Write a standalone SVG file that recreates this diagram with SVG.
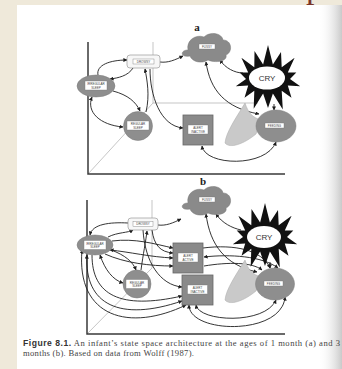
<svg xmlns="http://www.w3.org/2000/svg" width="342" height="369" viewBox="0 0 342 369">
<defs>
<style>
.ax{fill:none;stroke:#3a3a3a;stroke-width:1.5}
.thin{fill:none;stroke:#a0a0a0;stroke-width:0.6}
.nf{fill:#8e8e8e;stroke:#7a7a7a;stroke-width:0.5}
.sq{fill:#8a8a8a;stroke:#666;stroke-width:0.8}
.lbl{fill:#fff;stroke:#777;stroke-width:0.4}
.lt{font-family:"Liberation Sans",Arial,sans-serif;font-size:3px;fill:#444;text-anchor:middle}
.c{fill:none;stroke:#1e1e1e;stroke-width:0.9}
.ab{marker-end:url(#ar)}
.bb{marker-start:url(#ar);marker-end:url(#ar)}
.hd{font-family:"Liberation Serif","Times New Roman",serif;font-weight:bold;font-size:11px;fill:#222;text-anchor:middle}
.cry{font-family:"Liberation Sans",Arial,sans-serif;font-size:8px;fill:#333;text-anchor:middle}
</style>
<marker id="ar" viewBox="0 0 4 4" refX="3.6" refY="2" markerWidth="4" markerHeight="4" markerUnits="userSpaceOnUse" orient="auto-start-reverse">
<path d="M0,0 L4,2 L0,4 Z" fill="#1e1e1e"/>
</marker>
<linearGradient id="edge" x1="0" y1="0" x2="1" y2="0">
<stop offset="0" stop-color="#ffffff" stop-opacity="0"/>
<stop offset="1" stop-color="#c9c9c9" stop-opacity="1"/>
</linearGradient>
<polygon id="star" points="0,-34 4.9,-14.6 13,-27 13.7,-11.7 26.6,-21.2 19.8,-6.5 28.3,-6.5 22,0 32.2,7.3 19.8,6.5 23.5,18.7 13.7,11.7 14.8,30.6 4.9,14.6 0,29 -4.9,14.6 -14.3,29.7 -13.7,11.7 -23.5,18.7 -19.8,6.5 -32.2,7.3 -22,0 -28.3,-6.5 -19.8,-6.5 -26.6,-21.2 -13.7,-11.7 -13.5,-27.9 -4.9,-14.6" fill="#111"/>
<path id="cloud" d="M190,56 C180,58 180,50 188,50 C186,40 196,34 204,37 C210,31 222,33 223,40 C232,40 233,52 226,55 C228,62 214,63 208,60 C202,64 192,62 190,56 Z" fill="#8a8a8a" stroke="#777" stroke-width="0.5"/>
<path id="wedge" d="M245,103 C236,118 226,132 225,143 C230,149 244,144 256,134 L262,120 C252,118 248,112 245,103 Z" fill="#c9c9c9" stroke="#aaa" stroke-width="0.5"/>
</defs>

<!-- page -->
<rect x="0" y="0" width="342" height="369" fill="#efe9da"/>
<rect x="17" y="5" width="325" height="364" fill="#ffffff"/>
<rect x="318" y="5" width="24" height="364" fill="url(#edge)"/>
<text x="306" y="-2.5" font-family="Liberation Serif,'Times New Roman',serif" font-size="34" fill="#7a3526">p</text>

<!-- ================= PANEL A ================= -->
<g id="frame-a">
<path class="thin" d="M153,42 V103 H258 M88,174 L153,103"/>
<path class="ax" d="M88,42 V174 H285"/>
</g>

<g id="connectors-a">
<path class="c ab" d="M160,62 C168,63 175,60 183,56"/>
<path class="c ab" d="M98,75 C96,65 110,60 127,60"/>
<path class="c ab" d="M133,68 C128,76 118,78 110,79"/>
<path class="c bb" d="M92,97 C86,112 100,125 123,127"/>
<path class="c ab" d="M113,91 C128,95 136,102 140,111"/>
<path class="c ab" d="M146,112 C150,95 147,80 145,69"/>
<path class="c ab" d="M150,69 C150,95 160,126 183,128"/>
<path class="c bb" d="M206,62 C210,90 225,108 259,114"/>
<path class="c ab" d="M243,73 C235,73 225,68 220,60"/>
<path class="c ab" d="M274,104 L274,110"/>
<path class="c bb" d="M202,146 C205,166 266,168 276,142"/>
</g>

<g id="fussy-a">
<use href="#cloud"/>
<rect class="lbl" x="199" y="44" width="16" height="5"/>
<text class="lt" x="207" y="47.6">FUSSY</text>
</g>
<g id="drowsy-a">
<rect x="127" y="55" width="33" height="13" rx="3" fill="#f7f7f7" stroke="#999" stroke-width="0.7"/>
<rect class="lbl" x="133" y="59" width="21" height="5"/>
<text class="lt" x="143.5" y="62.6">DROWSY</text>
</g>
<g id="cry-a">
<use href="#star" transform="translate(268,79)"/>
<ellipse cx="267" cy="78" rx="18" ry="11.5" fill="#fff"/>
<text class="cry" x="267" y="81">CRY</text>
</g>
<g id="irregular-sleep-a">
<ellipse class="nf" cx="96" cy="86" rx="19" ry="11"/>
<rect class="lbl" x="85" y="81" width="22" height="9"/>
<text class="lt" x="96" y="85">IRREGULAR</text>
<text class="lt" x="96" y="88.7">SLEEP</text>
</g>
<g id="regular-sleep-a">
<circle class="nf" cx="138" cy="126" r="14.5"/>
<rect class="lbl" x="127" y="121" width="22" height="9"/>
<text class="lt" x="138" y="125">REGULAR</text>
<text class="lt" x="138" y="128.7">SLEEP</text>
</g>
<g id="alert-inactive-a">
<rect class="sq" x="183" y="115" width="30" height="30"/>
<rect class="lbl" x="188" y="125" width="20" height="9"/>
<text class="lt" x="198" y="129">ALERT</text>
<text class="lt" x="198" y="132.7">INACTIVE</text>
</g>
<g id="wedge-a">
<use href="#wedge"/>
</g>
<g id="feeding-a">
<ellipse class="nf" cx="276" cy="126" rx="20" ry="16"/>
<rect class="lbl" x="265" y="123" width="19" height="5"/>
<text class="lt" x="274.5" y="126.6">FEEDING</text>
</g>

<!-- ================= PANEL B ================= -->
<g id="frame-b">
<path class="thin" d="M152,200 V268 M87,334 L152,268"/>
<path class="ax" d="M87,200 V334 H285"/>
</g>

<g id="connectors-b">
<path class="c ab" d="M158,225 C166,226 173,223 181,219"/>
<path class="c ab" d="M128,223 C110,222 92,224 90,235"/>
<path class="c ab" d="M108,237 C118,232 128,233 133,230"/>
<path class="c bb" d="M206,214 C210,245 225,265 257,272"/>
<path class="c ab" d="M241,230 C232,228 222,223 216,214"/>
<path class="c ab" d="M270,262 L270,268"/>
<path class="c ab" d="M141,270 C143,255 146,240 147,231"/>
<path class="c ab" d="M152,230 C154,245 160,252 173,253"/>
<path class="c ab" d="M143,230 C145,262 160,285 182,287"/>
<path class="c ab" d="M112,241 C135,238 155,244 173,248"/>
<path class="c bb" d="M110,250 C130,252 150,257 173,258"/>
<path class="c ab" d="M105,254 C125,263 150,266 173,266"/>
<path class="c ab" d="M203,248 C235,244 262,250 270,268"/>
<path class="c bb" d="M204,257 C230,254 262,256 278,268"/>
<path class="c ab" d="M204,266 C228,262 252,262 262,270"/>
<path class="c bb" d="M100,255 C105,270 113,280 123,283"/>
<path class="c ab" d="M111,250 C125,255 133,262 136,270"/>
<path class="c ab" d="M92,255 C92,295 120,310 182,296"/>
<path class="c bb" d="M87,255 C84,305 120,322 182,301"/>
<path class="c bb" d="M82,250 C76,318 130,332 186,305"/>
<path class="c bb" d="M196,305 C199,322 265,325 276,300"/>
<path class="c bb" d="M189,305 C189,334 282,336 285,297"/>
</g>

<g id="fussy-b">
<use href="#cloud" transform="translate(0,153)"/>
<rect class="lbl" x="199" y="197" width="16" height="5"/>
<text class="lt" x="207" y="200.6">FUSSY</text>
</g>
<g id="drowsy-b">
<rect x="128" y="218" width="30" height="12" rx="3" fill="#f7f7f7" stroke="#999" stroke-width="0.7"/>
<rect class="lbl" x="133" y="221.5" width="20" height="5"/>
<text class="lt" x="143" y="225.1">DROWSY</text>
</g>
<g id="cry-b">
<use href="#star" transform="translate(265,237)"/>
<ellipse cx="264" cy="237" rx="17" ry="11" fill="#fff"/>
<text class="cry" x="264" y="240">CRY</text>
</g>
<g id="irregular-sleep-b">
<ellipse class="nf" cx="95" cy="245" rx="18" ry="10"/>
<rect class="lbl" x="84" y="240.5" width="22" height="9"/>
<text class="lt" x="95" y="244.5">IRREGULAR</text>
<text class="lt" x="95" y="248.2">SLEEP</text>
</g>
<g id="alert-active-b">
<rect class="sq" x="173" y="243" width="30" height="30"/>
<rect class="lbl" x="178" y="253" width="20" height="9"/>
<text class="lt" x="188" y="257">ALERT</text>
<text class="lt" x="188" y="260.7">ACTIVE</text>
</g>
<g id="regular-sleep-b">
<circle class="nf" cx="137" cy="284" r="14"/>
<rect class="lbl" x="126" y="279.5" width="22" height="9"/>
<text class="lt" x="137" y="283.5">REGULAR</text>
<text class="lt" x="137" y="287.2">SLEEP</text>
</g>
<g id="alert-inactive-b">
<rect class="sq" x="182" y="275" width="31" height="30"/>
<rect class="lbl" x="187.5" y="285" width="20" height="9"/>
<text class="lt" x="197.5" y="289">ALERT</text>
<text class="lt" x="197.5" y="292.7">INACTIVE</text>
</g>
<g id="wedge-b">
<use href="#wedge" transform="translate(0,157)"/>
</g>
<g id="feeding-b">
<ellipse class="nf" cx="275" cy="284" rx="19.5" ry="16"/>
<rect class="lbl" x="264" y="281" width="19" height="5"/>
<text class="lt" x="273.5" y="284.6">FEEDING</text>
</g>

<!-- panel letters -->
<g id="panel-labels">
<text class="hd" x="197" y="31">a</text>
<text class="hd" x="203" y="185">b</text>
</g>

<!-- caption -->
<g id="caption" font-size="8.6" fill="#444">
<text x="23" y="346" textLength="317" lengthAdjust="spacing"><tspan font-family="'Liberation Sans',Arial,sans-serif" font-weight="bold" fill="#333">Figure 8.1.</tspan><tspan font-family="'Liberation Serif','Times New Roman',serif"> An infant’s state space architecture at the ages of 1 month (a) and 3</tspan></text>
<text x="23" y="355.5" textLength="171" lengthAdjust="spacing" font-family="'Liberation Serif','Times New Roman',serif">months (b). Based on data from Wolff (1987).</text>
</g>
</svg>
